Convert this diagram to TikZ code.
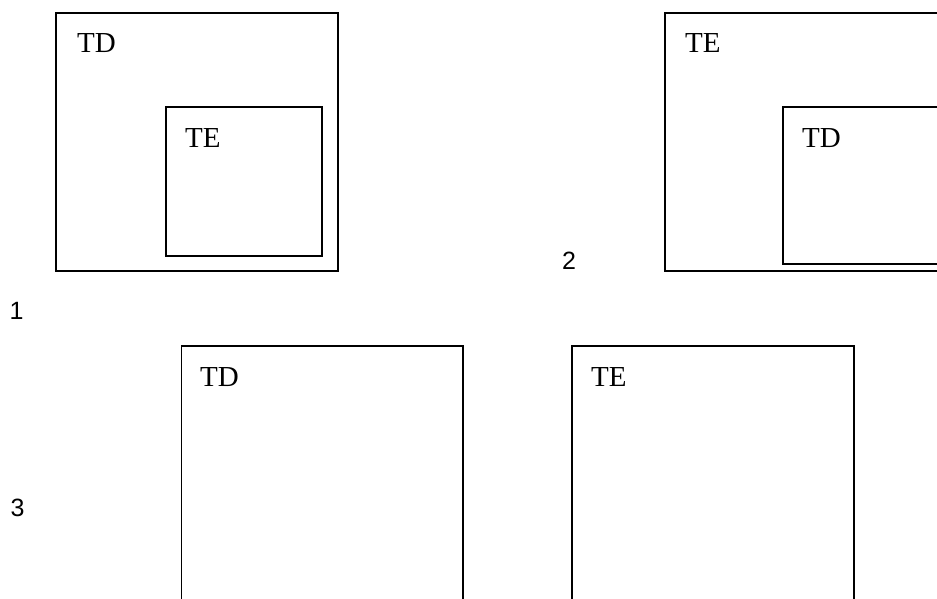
\documentclass[tikz,border=0pt]{standalone}
\usepackage{fontspec}
\setmainfont{Liberation Serif}
\newfontfamily\numfont{Liberation Sans}
\begin{document}
\begin{tikzpicture}[x=1pt,y=-1pt,
  box/.style={draw=black,line width=1.3pt},
  lbl/.style={anchor=base west,inner sep=0pt,font=\fontsize{29}{30}\selectfont},
  num/.style={anchor=center,inner sep=0pt,font=\numfont\fontsize{25}{26}\selectfont}]
\path[use as bounding box] (0,0) rectangle (937,599);
% case 1
\draw[box] (56,13) rectangle (338,271);
\draw[box] (166,107) rectangle (322,256);
\node[lbl] (td1) at (77,53) {TD};
\node[lbl] (te1) at (185,147) {TE};
\node[num] (n1) at (16.5,311) {1};
% case 2
\draw[box] (945,13) -- (665,13) -- (665,271) -- (945,271);
\draw[box] (945,107) -- (783,107) -- (783,264) -- (945,264);
\node[lbl] (te2) at (685,53) {TE};
\node[lbl] (td2) at (802,147) {TD};
\node[num] (n2) at (569,261) {2};
% case 3
\draw[box] (181.5,610) -- (181.5,346) -- (463,346) -- (463,610);
\draw[box] (572,610) -- (572,346) -- (854,346) -- (854,610);
\node[lbl] (td3) at (200,386) {TD};
\node[lbl] (te3) at (591,386) {TE};
\node[num] (n3) at (17.5,508) {3};
\end{tikzpicture}
\end{document}
